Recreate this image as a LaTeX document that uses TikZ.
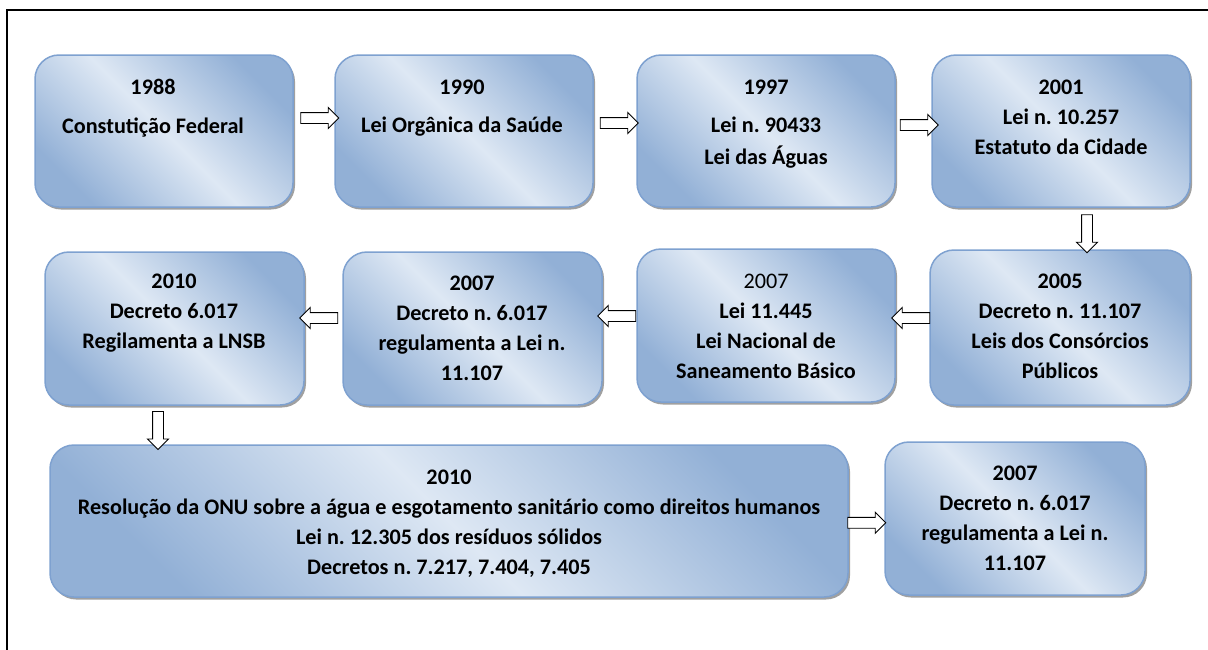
\documentclass[tikz,border=0pt]{standalone}
\usepackage{fontspec}
\setmainfont{Carlito}
\usetikzlibrary{shapes.arrows,shadows,calc}
\definecolor{boxlight}{RGB}{222,232,244}
\definecolor{boxdark}{RGB}{146,176,214}
\definecolor{boxline}{RGB}{126,161,208}
\definecolor{shadowgray}{RGB}{150,150,150}
\frenchspacing
\begin{document}
\begin{tikzpicture}[x=1pt,y=-1pt,
  box/.style={draw=boxline, line width=1.5pt, rounded corners=24pt,
    top color=boxdark, bottom color=boxdark, middle color=boxlight, shading angle=-45,
    drop shadow={shadow xshift=2pt, shadow yshift=-2.5pt, fill=shadowgray, opacity=0.9},
    minimum width=258pt, minimum height=152pt, inner sep=0pt},
  txt/.style={align=center, font=\fontsize{22.2}{30}\selectfont\bfseries, inner sep=0pt},
  arr/.style={shape=single arrow, draw=black, fill=white, line width=0.9pt,
    minimum height=38pt, single arrow head extend=5pt,
    single arrow head indent=0pt},
  rarr/.style={arr, inner xsep=0pt, inner ysep=5pt},
  larr/.style={arr, shape border rotate=180, inner xsep=0pt, inner ysep=5pt},
  darr/.style={arr, shape border rotate=270, inner xsep=5pt, inner ysep=0pt}]
\useasboundingbox (0,0) rectangle (1208,649);
\draw[line width=1.8pt] (1215,10) -- (7,10) -- (7,655);

% boxes
\node[box] (b1) at (164,131) {};
\node[box] (b2) at (464,131) {};
\node[box] (b3) at (766,131) {};
\node[box] (b4) at (1061,131) {};
\node[box, minimum width=260pt, minimum height=155pt] (b5) at (1060,327.5) {};
\node[box, minimum height=153pt] (b6) at (766,325.5) {};
\node[box, minimum width=259pt, minimum height=153pt] (b7) at (472.5,328.5) {};
\node[box, minimum width=259pt, minimum height=153pt] (b8) at (174.5,328.5) {};
\node[box, minimum width=798pt, minimum height=152pt] (b9) at (449,521) {};
\node[box, minimum width=260pt, minimum height=153pt] (b10) at (1015,518.5) {};

% texts
\node[txt] (t1) at (153,108) {1988\\[9pt]Constutição Federal};
\node[txt] (t2) at (462,108) {1990\\[8pt]Lei Orgânica da Saúde};
\node[txt] (t3) at (766,124) {1997\\[8pt]Lei n. 90433\\[2pt]Lei das Águas};
\node[txt] (t4) at (1061,117) {2001\\Lei n. 10.257\\Estatuto da Cidade};
\node[txt] (t5) at (1060,326.5) {2005\\Decreto n. 11.107\\Leis dos Consórcios\\Públicos};
\node[txt] (t6) at (766,326) {{\mdseries 2007}\\Lei 11.445\\Lei Nacional de\\Saneamento Básico};
\node[txt] (t7) at (472,328) {2007\\Decreto n. 6.017\\regulamenta a Lei n.\\11.107};
\node[txt] (t8) at (174,313) {2010\\Decreto 6.017\\Regilamenta a LNSB};
\node[txt] (t9) at (449,524) {2010\\Resolução da ONU sobre a água e esgotamento sanitário como direitos humanos\\Lei n. 12.305 dos resíduos sólidos\\Decretos n. 7.217, 7.404, 7.405};
\node[txt] (t10) at (1015,518) {2007\\Decreto n. 6.017\\regulamenta a Lei n.\\11.107};

% arrows
\node[rarr] (a12) at ($(b1.east)!0.5!(b2.west)+(3,-13)$) {};
\node[rarr] (a23) at ($(b2.east)!0.5!(b3.west)+(1.5,-8)$) {};
\node[rarr] (a34) at ($(b3.east)!0.5!(b4.west)+(3,-6)$) {};
\node[darr] (a45) at ($(b4.south)!0.5!(b5.north)+(26.5,2.5)$) {};
\node[larr] (a56) at ($(b5.west)!0.5!(b6.east)+(1,-8.5)$) {};
\node[larr] (a67) at ($(b6.west)!0.5!(b7.east)+(0,-11)$) {};
\node[larr] (a78) at ($(b7.west)!0.5!(b8.east)+(-2,-10.5)$) {};
\node[darr] (a89) at ($(b8.south)+(-16.5,22)$) {};
\node[rarr] (a910) at ($(b9.east)!0.5!(b10.west)+(-2.5,3)$) {};
\end{tikzpicture}
\end{document}
